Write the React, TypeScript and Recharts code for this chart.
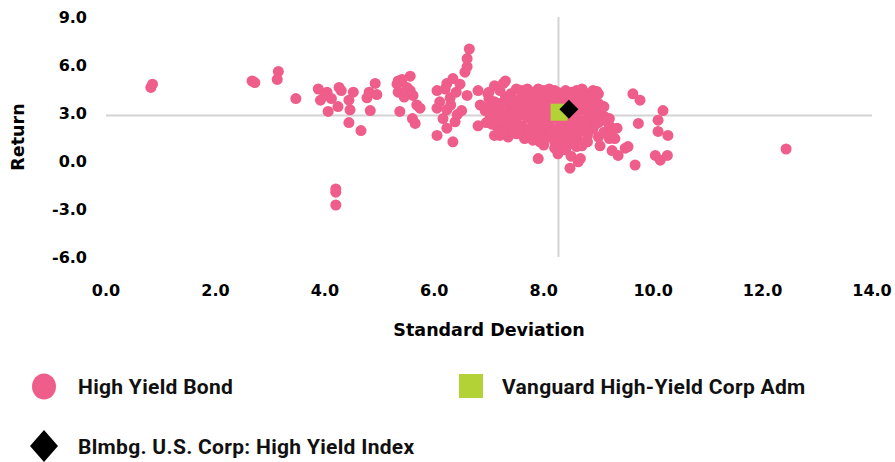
import React from 'react';
import { ScatterChart, Scatter, XAxis, YAxis, ReferenceLine } from 'recharts';

// [standard deviation, return]
const highYieldBond: [number, number][] = [
  [0.82, 4.6], [0.85, 4.8], [2.67, 5.0], [2.72, 4.9], [3.13, 5.1], [3.15, 5.6], [3.47, 3.9],
  [3.88, 4.5], [3.92, 3.8], [4.04, 4.3], [4.06, 3.1], [4.0, 4.1], [4.12, 3.9], [4.26, 4.6],
  [4.24, 3.4], [4.3, 4.4], [4.44, 3.8], [4.52, 4.3], [4.46, 3.2], [4.44, 2.4], [4.66, 1.9],
  [4.2, -1.75], [4.2, -1.95], [4.2, -2.75],
  [4.81, 4.3], [4.92, 4.85], [4.83, 3.15], [4.95, 4.15], [4.77, 3.95],
  [5.32, 4.8], [5.34, 5.0], [5.41, 5.1], [5.56, 5.3], [5.34, 4.3], [5.37, 3.1], [5.56, 4.4],
  [5.61, 4.1], [5.68, 3.5], [5.74, 3.3], [5.65, 2.35], [5.6, 2.65], [5.5, 4.6], [5.45, 4.0],
  [6.05, 4.4], [6.23, 4.85], [6.34, 5.15], [6.47, 4.8], [6.05, 3.3], [6.23, 3.2], [6.16, 2.65],
  [6.23, 2.05], [6.38, 2.45], [6.05, 1.6], [6.34, 1.2], [6.6, 4.1], [6.56, 5.55], [6.6, 5.9],
  [6.6, 6.4], [6.64, 7.0], [6.5, 3.15], [6.29, 3.95], [6.2, 4.5], [6.4, 4.3], [6.1, 3.7],
  [6.42, 2.9], [6.3, 3.5],
  [6.8, 4.4], [6.84, 3.5], [6.8, 2.2], [6.98, 4.2], [7.1, 4.7], [7.3, 5.0], [6.93, 3.15],
  [7.02, 2.65], [7.2, 3.3], [7.15, 2.15], [7.2, 1.6], [7.35, 1.5], [7.33, 3.9], [7.38, 3.5],
  [7.0, 4.3], [7.0, 3.9], [7.0, 3.4], [7.0, 3.0], [7.1, 3.7], [7.1, 3.2], [7.1, 1.6],
  [7.2, 4.4], [7.2, 3.6], [7.2, 2.8], [7.3, 4.0], [7.3, 2.5], [7.26, 4.85],
  [7.4, 4.2], [7.4, 2.9], [7.4, 2.3], [7.4, 1.9], [7.5, 4.5], [7.5, 3.8], [7.5, 3.0],
  [7.5, 2.6], [7.5, 1.7], [7.6, 4.4], [7.6, 4.0], [7.6, 3.4], [7.6, 2.9], [7.6, 2.2],
  [7.6, 1.7], [7.7, 4.5], [7.7, 3.9], [7.7, 3.2], [7.7, 2.7], [7.7, 2.0],
  [7.8, 4.3], [7.8, 4.0], [7.8, 3.6], [7.8, 3.0], [7.8, 2.4], [7.8, 1.3],
  [7.9, 4.5], [7.9, 4.1], [7.9, 3.4], [7.9, 2.8], [7.9, 2.2], [7.93, 1.2], [7.9, 0.15],
  [8.0, 4.4], [8.0, 3.8], [8.0, 3.1], [8.0, 2.6], [8.0, 1.8], [8.0, 1.0],
  [8.1, 4.5], [8.1, 4.2], [8.1, 3.5], [8.1, 2.9], [8.1, 2.3], [8.1, 1.5],
  [8.2, 4.4], [8.2, 3.9], [8.2, 3.2], [8.2, 2.7], [8.2, 2.0], [8.2, 1.2], [8.2, 0.8],
  [8.3, 4.1], [8.3, 3.6], [8.3, 2.6], [8.3, 2.2], [8.3, 1.6], [8.26, 0.45], [8.3, 1.0],
  [8.4, 4.4], [8.4, 3.9], [8.4, 2.9], [8.4, 2.4], [8.4, 1.8], [8.4, 1.3], [8.4, 0.7],
  [8.5, 4.3], [8.5, 3.7], [8.5, 3.1], [8.5, 2.6], [8.5, 2.0], [8.5, 1.1], [8.48, -0.45], [8.5, 0.3],
  [8.6, 4.4], [8.6, 4.0], [8.6, 3.4], [8.6, 2.8], [8.6, 2.2], [8.6, 1.5], [8.6, 0.9], [8.63, -0.05],
  [8.7, 4.5], [8.7, 3.8], [8.7, 3.2], [8.7, 2.5], [8.7, 1.9], [8.7, 0.95], [8.67, 0.15],
  [8.8, 4.2], [8.8, 3.6], [8.8, 3.0], [8.8, 2.3], [8.8, 1.6], [8.8, 1.2],
  [8.9, 4.4], [8.9, 3.9], [8.9, 3.3], [8.9, 2.7], [8.9, 2.0],
  [9.0, 4.2], [9.0, 3.6], [9.0, 3.0], [9.0, 2.4], [9.0, 1.5], [9.03, 0.95], [8.97, 4.35],
  [9.1, 3.4], [9.1, 2.8], [9.1, 1.8], [9.2, 2.65], [9.2, 1.4], [9.2, 2.2], [9.27, 2.0],
  [7.05, 2.3], [7.25, 2.0], [7.45, 3.3], [7.55, 2.0], [7.65, 1.4], [7.75, 1.7], [7.85, 1.9],
  [7.95, 1.5], [8.05, 2.2], [8.15, 1.8], [8.25, 1.5], [8.35, 1.9], [8.45, 1.5], [8.55, 1.7],
  [8.65, 1.2], [8.75, 2.1], [8.85, 2.6], [8.95, 2.3], [8.35, 3.3], [8.45, 3.5], [8.55, 3.9],
  [8.65, 3.7], [8.75, 4.1], [7.35, 3.0], [7.45, 2.6], [7.65, 3.6], [7.85, 3.3], [7.95, 3.7],
  [8.05, 3.4], [8.15, 4.0], [8.25, 4.3], [8.45, 4.1], [8.85, 4.0], [9.05, 3.3], [9.15, 2.5],
  [7.15, 2.6], [6.95, 2.4], [7.25, 1.8],
  [9.63, 4.2], [9.76, 3.8], [10.18, 3.15], [9.73, 2.35], [10.09, 2.55], [10.09, 1.85],
  [10.27, 1.6], [9.34, 2.05], [9.3, 1.4], [9.49, 0.8], [9.54, 0.9], [9.25, 0.65], [9.36, 0.35],
  [10.04, 0.35], [10.13, 0.05], [10.26, 0.35], [9.67, -0.25],
  [12.43, 0.75],
];

const vanguardFund: [number, number][] = [[8.28, 3.05]];
const benchmarkIndex: [number, number][] = [[8.46, 3.24]];

const crossSd = 8.27;
const crossRet = 2.85;

const xTicks = [0, 2, 4, 6, 8, 10, 12, 14];
const yTicks = [-6, -3, 0, 3, 6, 9];

const PINK = '#EF5D8A';
const GREEN = '#B2D235';
const TICK_FONT = { fontSize: 16, fontWeight: 700, fill: '#000', fontFamily: 'DejaVu Sans' };
const LABEL_FONT = { fontSize: 17.5, fontWeight: 700, fill: '#000', fontFamily: 'DejaVu Sans' };

const toRows = (pts: [number, number][]) => pts.map(([sd, ret]) => ({ sd, ret }));

const Dot = (p: any) => <circle cx={p.cx} cy={p.cy} r={5.5} fill={PINK} />;
const Square = (p: any) => <rect x={p.cx - 8.5} y={p.cy - 8.5} width={17} height={17} fill={GREEN} />;
const Diamond = (p: any) => (
  <polygon
    points={`${p.cx},${p.cy - 9.5} ${p.cx + 9.5},${p.cy} ${p.cx},${p.cy + 9.5} ${p.cx - 9.5},${p.cy}`}
    fill="#000"
  />
);

const legendText: React.CSSProperties = {
  position: 'absolute',
  fontFamily: 'Roboto',
  fontWeight: 700,
  fontSize: 21,
  letterSpacing: 0.3,
  color: '#111',
  lineHeight: '22px',
  whiteSpace: 'nowrap',
};

export default function App() {
  return (
    <div style={{ position: 'absolute', left: 0, top: 0, width: 895, height: 462, background: '#fff' }}>
      <ScatterChart width={895} height={350} margin={{ top: 17, right: 23, left: 0, bottom: 0 }}>
        <XAxis
          type="number"
          dataKey="sd"
          domain={[0, 14]}
          ticks={xTicks}
          tickFormatter={(v: number) => v.toFixed(1)}
          axisLine={false}
          tickLine={false}
          tickSize={0}
          tickMargin={28}
          tick={TICK_FONT}
          height={93}
          label={{ value: 'Standard Deviation', position: 'insideBottom', offset: 14, style: LABEL_FONT }}
        />
        <YAxis
          type="number"
          dataKey="ret"
          domain={[-6, 9]}
          ticks={yTicks}
          tickFormatter={(v: number) => v.toFixed(1)}
          axisLine={false}
          tickLine={false}
          tickSize={0}
          tickMargin={19}
          tick={TICK_FONT}
          width={106}
          label={{ value: 'Return', angle: -90, position: 'insideLeft', offset: 18, style: { ...LABEL_FONT, textAnchor: 'middle' } }}
        />
        <Scatter data={toRows(highYieldBond)} shape={Dot} isAnimationActive={false} />
        <Scatter data={toRows(vanguardFund)} shape={Square} isAnimationActive={false} />
        <ReferenceLine x={crossSd} stroke="#D3D3D3" strokeWidth={2} />
        <ReferenceLine y={crossRet} stroke="#D3D3D3" strokeWidth={2} />
        <Scatter data={toRows(benchmarkIndex)} shape={Diamond} isAnimationActive={false} />
      </ScatterChart>

      <svg style={{ position: 'absolute', left: 30, top: 372 }} width={28} height={30}>
        <ellipse cx={14} cy={14.5} rx={12} ry={13} fill={PINK} />
      </svg>
      <div style={{ ...legendText, left: 78, top: 376 }}>High Yield Bond</div>

      <svg style={{ position: 'absolute', left: 459, top: 374 }} width={24} height={24}>
        <rect x={0} y={0} width={24} height={24} fill={GREEN} />
      </svg>
      <div style={{ ...legendText, left: 502, top: 376 }}>Vanguard High-Yield Corp Adm</div>

      <svg style={{ position: 'absolute', left: 30, top: 430 }} width={28} height={32}>
        <polygon points="14,0 28,16 14,32 0,16" fill="#000" />
      </svg>
      <div style={{ ...legendText, left: 78, top: 436 }}>Blmbg. U.S. Corp: High Yield Index</div>
    </div>
  );
}
